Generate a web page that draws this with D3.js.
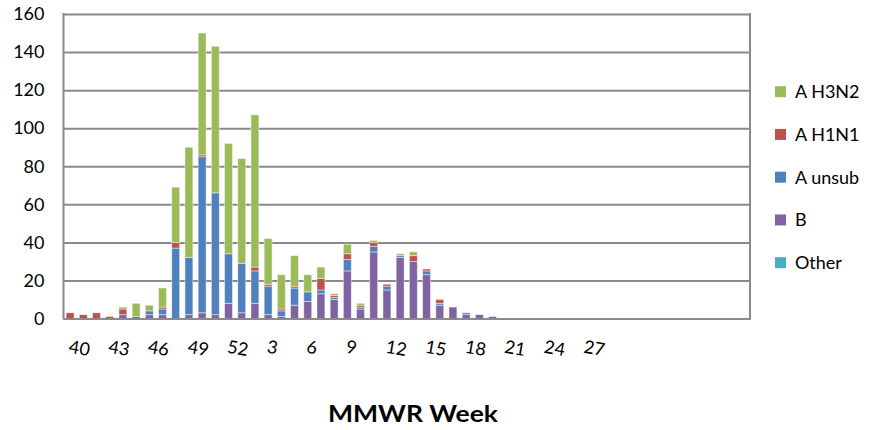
<!DOCTYPE html>
<html>
<head>
<meta charset="utf-8">
<script src="https://cdn.jsdelivr.net/npm/d3@7"></script>
<style>
  body { margin: 0; background: #fff; }
  text { font-family: Lato, "Open Sans", sans-serif; fill: #000; }
</style>
</head>
<body>
<div id="chart"></div>
<script>
// MMWR weeks 40..52 then 1..39
const weeks = [40, 41, 42, 43, 44, 45, 46, 47, 48, 49, 50, 51, 52,
  1, 2, 3, 4, 5, 6, 7, 8, 9, 10, 11, 12, 13, 14, 15, 16, 17, 18, 19, 20,
  21, 22, 23, 24, 25, 26, 27, 28, 29, 30, 31, 32, 33, 34, 35, 36, 37, 38, 39];
const tickWeeks = [40, 43, 46, 49, 52, 3, 6, 9, 12, 15, 18, 21, 24, 27];
const yTicks = [0, 20, 40, 60, 80, 100, 120, 140, 160];

// counts per week (weeks after 20 had nothing reported)
const other  = [0, 0, 0, 0, 0, 0, 0, 0, 0, 0, 0, 0, 0, 0, 0, 0, 0, 0, 0, 0, 0, 0, 0, 0, 0, 0, 0, 0, 0, 0, 0, 0, 0];
const fluB   = [0, 0, 0, 0, 2, 1, 2, 2, 0, 2, 3, 2, 8, 3, 8, 2, 1, 7, 9, 13, 10, 25, 5, 35, 15, 32, 30, 23, 7, 6, 2, 2, 1];
const aUnsub = [0, 0, 0, 0, 0, 0, 2, 3, 37, 30, 82, 64, 26, 26, 17, 15, 3, 9, 5, 2, 1, 6, 1, 3, 2, 1, 0, 2, 1, 0, 1, 0, 0];
const aH1N1  = [3, 2, 3, 1, 3, 0, 0, 1, 3, 0, 1, 0, 0, 0, 2, 1, 1, 1, 0, 6, 1, 3, 1, 2, 1, 0, 3, 1, 2, 0, 0, 0, 0];
const aH3N2  = [0, 0, 0, 0, 1, 7, 3, 10, 29, 58, 64, 77, 58, 55, 80, 24, 18, 16, 9, 6, 1, 5, 1, 1, 0, 1, 2, 0, 0, 0, 0, 0, 0];

const seriesNames = ["Other", "B", "A unsub", "A H1N1", "A H3N2"];
const seriesData = [other, fluB, aUnsub, aH1N1, aH3N2];
const colors = ["#4BACC6", "#8064A2", "#4F81BD", "#C0504D", "#9BBB59"];

const W = 880, H = 430;
const pLeft = 63.5, pRight = 750, pTop = 14, pBottom = 318.5;

const rows = weeks.map((w, i) => {
  const r = { week: w };
  seriesNames.forEach((s, k) => r[s] = seriesData[k][i] || 0);
  return r;
});

const svg = d3.select("#chart").append("svg")
  .attr("width", W).attr("height", H);

const x = d3.scaleBand().domain(weeks).range([pLeft, pRight])
  .paddingInner(0.4).paddingOuter(0.2);
const y = d3.scaleLinear().domain([0, 160]).range([pBottom, pTop]);

// gridlines + y labels
const yAxis = svg.append("g")
  .attr("transform", `translate(${pLeft},0)`)
  .call(d3.axisLeft(y).tickValues(yTicks).tickSize(-(pRight - pLeft)).tickPadding(19));
yAxis.select(".domain").remove();
yAxis.selectAll("line").attr("stroke", "#8a8a8a").attr("stroke-width", 2);
yAxis.selectAll("text").style("font-size", "18px").style("font-family", "Lato, sans-serif");

// frame
svg.append("line").attr("x1", pLeft).attr("x2", pLeft).attr("y1", pTop - 1).attr("y2", pBottom + 1)
  .attr("stroke", "#8a8a8a").attr("stroke-width", 2);
svg.append("line").attr("x1", pRight).attr("x2", pRight).attr("y1", pTop - 1).attr("y2", pBottom + 1)
  .attr("stroke", "#8a8a8a").attr("stroke-width", 2);

// stacked bars
const stack = d3.stack().keys(seriesNames)(rows);
svg.append("g").selectAll("g")
  .data(stack)
  .join("g")
  .attr("fill", (d, i) => colors[i])
  .selectAll("rect")
  .data(d => d.filter(p => p[1] > p[0]))
  .join("rect")
  .attr("x", d => x(d.data.week))
  .attr("width", x.bandwidth())
  .attr("y", d => y(d[1]))
  .attr("height", d => y(d[0]) - y(d[1]))
  .attr("stroke", "rgba(255,255,255,0.55)")
  .attr("stroke-width", 0.8);

// x axis labels
const xAxis = svg.append("g")
  .attr("transform", `translate(0,${pBottom})`)
  .call(d3.axisBottom(x).tickValues(tickWeeks).tickSize(0));
xAxis.select(".domain").attr("stroke", "#8a8a8a").attr("stroke-width", 2);
xAxis.selectAll("text")
  .attr("y", 0).attr("dy", 0)
  .attr("text-anchor", "start")
  .attr("transform", "translate(-2,34) rotate(10)")
  .style("font-size", "18px").style("font-family", "Lato, sans-serif");

// axis title
svg.append("text")
  .attr("x", 413).attr("y", 422)
  .attr("text-anchor", "middle")
  .attr("textLength", 170).attr("lengthAdjust", "spacingAndGlyphs")
  .style("font-size", "22px").style("font-weight", "bold")
  .text("MMWR Week");

// legend
const legendNames = seriesNames.slice().reverse();
const legendColors = colors.slice().reverse();
const lg = svg.append("g").selectAll("g")
  .data(legendNames)
  .join("g")
  .attr("transform", (d, i) => `translate(775,${91.7 + i * 42.75})`);
lg.append("rect").attr("x", 0).attr("y", -5.5).attr("width", 11).attr("height", 11)
  .attr("fill", (d, i) => legendColors[i]);
lg.append("text").attr("x", 20).attr("dy", "0.36em")
  .style("font-size", "18px")
  .text(d => d);
</script>
</body>
</html>
